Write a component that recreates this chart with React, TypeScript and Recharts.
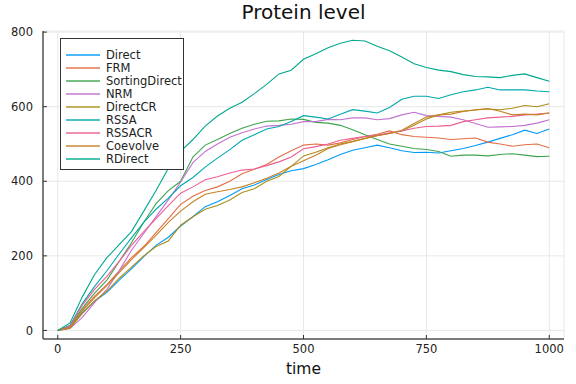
import React from "react";
import { LineChart, Line, XAxis, YAxis, CartesianGrid } from "recharts";

const time = [
  0, 25, 50, 75, 100, 125, 150, 175, 200, 225, 250, 275, 300, 325, 350, 375, 400, 425, 450, 475, 500,
  525, 550, 575, 600, 625, 650, 675, 700, 725, 750, 775, 800, 825, 850, 875, 900, 925, 950, 975, 1000,
];

const direct = [
  0, 8, 48, 78, 102, 135, 165, 198, 228, 250, 280, 305, 332, 345, 362, 380, 390, 405, 418, 428, 434,
  445, 458, 472, 483, 490, 497, 490, 482, 477, 478, 476, 482, 488, 496, 505, 515, 525, 537, 528, 540,
];
const frm = [
  0, 10, 55, 92, 123, 160, 195, 225, 262, 300, 338, 360, 375, 385, 400, 420, 432, 445, 465, 482, 497,
  500, 497, 503, 512, 520, 526, 535, 525, 520, 518, 516, 512, 514, 516, 505, 500, 494, 498, 500, 490,
];
const sortingDirect = [
  0, 10, 60, 100, 135, 185, 235, 290, 340, 375, 400, 465, 497, 512, 528, 542, 553, 561, 562, 567, 566,
  558, 556, 550, 538, 525, 512, 500, 494, 488, 485, 480, 467, 470, 470, 468, 472, 474, 470, 466, 467,
];
const nrm = [
  0, 5, 35, 75, 110, 160, 215, 260, 305, 350, 398, 450, 480, 500, 518, 530, 540, 548, 550, 553, 560,
  560, 566, 565, 570, 570, 565, 568, 578, 585, 576, 574, 572, 565, 555, 545, 546, 547, 550, 556, 565,
];
const directCR = [
  0, 6, 45, 80, 105, 140, 170, 200, 225, 240, 282, 305, 325, 335, 350, 370, 380, 400, 413, 440, 468,
  478, 490, 500, 507, 515, 523, 528, 535, 550, 567, 578, 585, 588, 591, 594, 592, 596, 603, 600, 608,
];
const rssa = [
  0, 14, 72, 118, 160, 205, 248, 290, 325, 355, 388, 410, 438, 462, 485, 510, 525, 540, 547, 560, 576,
  572, 567, 580, 592, 588, 583, 598, 620, 628, 628, 622, 632, 640, 645, 652, 645, 645, 645, 642, 640,
];
const rssaCR = [
  0, 12, 68, 110, 145, 185, 228, 265, 300, 335, 368, 385, 404, 412, 422, 430, 433, 442, 452, 465, 487,
  493, 500, 510, 515, 520, 523, 530, 535, 542, 547, 548, 550, 560, 565, 570, 572, 574, 578, 580, 583,
];
const coevolve = [
  0, 8, 52, 88, 120, 155, 190, 222, 255, 290, 320, 345, 365, 372, 378, 385, 396, 408, 422, 440, 455,
  470, 488, 498, 506, 515, 522, 528, 537, 555, 572, 578, 580, 587, 592, 595, 588, 578, 580, 578, 583,
];
const rDirect = [
  0, 20, 90, 150, 195, 230, 265, 320, 375, 435, 480, 512, 548, 575, 596, 612, 635, 660, 688, 698, 727,
  742, 758, 770, 778, 776, 762, 750, 733, 715, 705, 698, 694, 686, 681, 680, 678, 684, 688, 678, 668,
];

const xTicks = [0, 250, 500, 750, 1000];
const yTicks = [0, 200, 400, 600, 800];

const series = [
  { name: "Direct", color: "#009AFA", values: direct },
  { name: "FRM", color: "#E36F47", values: frm },
  { name: "SortingDirect", color: "#3EA44E", values: sortingDirect },
  { name: "NRM", color: "#C371D2", values: nrm },
  { name: "DirectCR", color: "#AC8E18", values: directCR },
  { name: "RSSA", color: "#00A9AD", values: rssa },
  { name: "RSSACR", color: "#ED5E93", values: rssaCR },
  { name: "Coevolve", color: "#C68225", values: coevolve },
  { name: "RDirect", color: "#00A98D", values: rDirect },
];

const rows = time.map((t, i) => {
  const row: Record<string, number> = { t };
  series.forEach((s) => {
    row[s.name] = s.values[i];
  });
  return row;
});

const FONT = "'DejaVu Sans', sans-serif";
const TICK_MARGIN = 6;

function XTick({ x, y, payload }: any) {
  const axisY = y - TICK_MARGIN;
  return (
    <g>
      <line x1={x} x2={x} y1={axisY} y2={axisY - 4} stroke="#333" strokeWidth={1} />
      <text x={x} y={y} dy="0.71em" textAnchor="middle" fill="#222" fontSize={11.5} fontFamily={FONT}>
        {payload.value}
      </text>
    </g>
  );
}

function YTick({ x, y, payload }: any) {
  const axisX = x + TICK_MARGIN + 4;
  return (
    <g>
      <line x1={axisX} x2={axisX + 4} y1={y} y2={y} stroke="#333" strokeWidth={1} />
      <text x={x} y={y} dy="0.355em" textAnchor="end" fill="#222" fontSize={11.5} fontFamily={FONT}>
        {payload.value}
      </text>
    </g>
  );
}

export default function App() {
  return (
    <div style={{ position: "relative", width: 576, height: 384, background: "#fff", fontFamily: FONT }}>
      <style>{`body{margin:0}`}</style>
      <div
        style={{
          position: "absolute",
          left: 43,
          width: 521,
          top: 2,
          textAlign: "center",
          fontSize: 20,
          lineHeight: "20px",
          color: "#111",
        }}
      >
        Protein level
      </div>
      <LineChart width={576} height={384} data={rows} margin={{ top: 31, right: 12, left: 0, bottom: 0 }}>
        <CartesianGrid stroke="#e8e8e8" strokeWidth={1} />
        <XAxis
          dataKey="t"
          type="number"
          domain={[-30, 1030]}
          ticks={xTicks}
          height={45}
          tickSize={0}
          tickMargin={TICK_MARGIN}
          tick={<XTick />}
          axisLine={{ stroke: "#555", strokeWidth: 1.5 }}
          tickLine={false}
          label={{ value: "time", position: "insideBottom", offset: 10, fontSize: 15.5, fill: "#111", fontFamily: FONT }}
        />
        <YAxis
          type="number"
          domain={[-23, 803]}
          ticks={yTicks}
          width={43}
          tickSize={0}
          tickMargin={TICK_MARGIN + 4}
          tick={<YTick />}
          axisLine={{ stroke: "#555", strokeWidth: 1.5 }}
          tickLine={false}
        />
        {series.map((s) => (
          <Line
            key={s.name}
            type="linear"
            dataKey={s.name}
            stroke={s.color}
            strokeWidth={1.1}
            dot={false}
            activeDot={false}
            isAnimationActive={false}
          />
        ))}
      </LineChart>
      <div
        style={{
          position: "absolute",
          left: 60,
          top: 38,
          width: 122,
          height: 130,
          border: "1.2px solid #333",
          background: "#fff",
        }}
      >
        {series.map((s, i) => (
          <div
            key={s.name}
            style={{
              position: "absolute",
              left: 0,
              top: 9.5 + i * 12.95,
              height: 13,
              display: "flex",
              alignItems: "center",
              fontSize: 11.5,
              color: "#222",
              whiteSpace: "nowrap",
            }}
          >
            <span style={{ display: "inline-block", width: 34, height: 2, marginLeft: 5, background: s.color, opacity: 0.7 }} />
            <span style={{ marginLeft: 6 }}>{s.name}</span>
          </div>
        ))}
      </div>
    </div>
  );
}
